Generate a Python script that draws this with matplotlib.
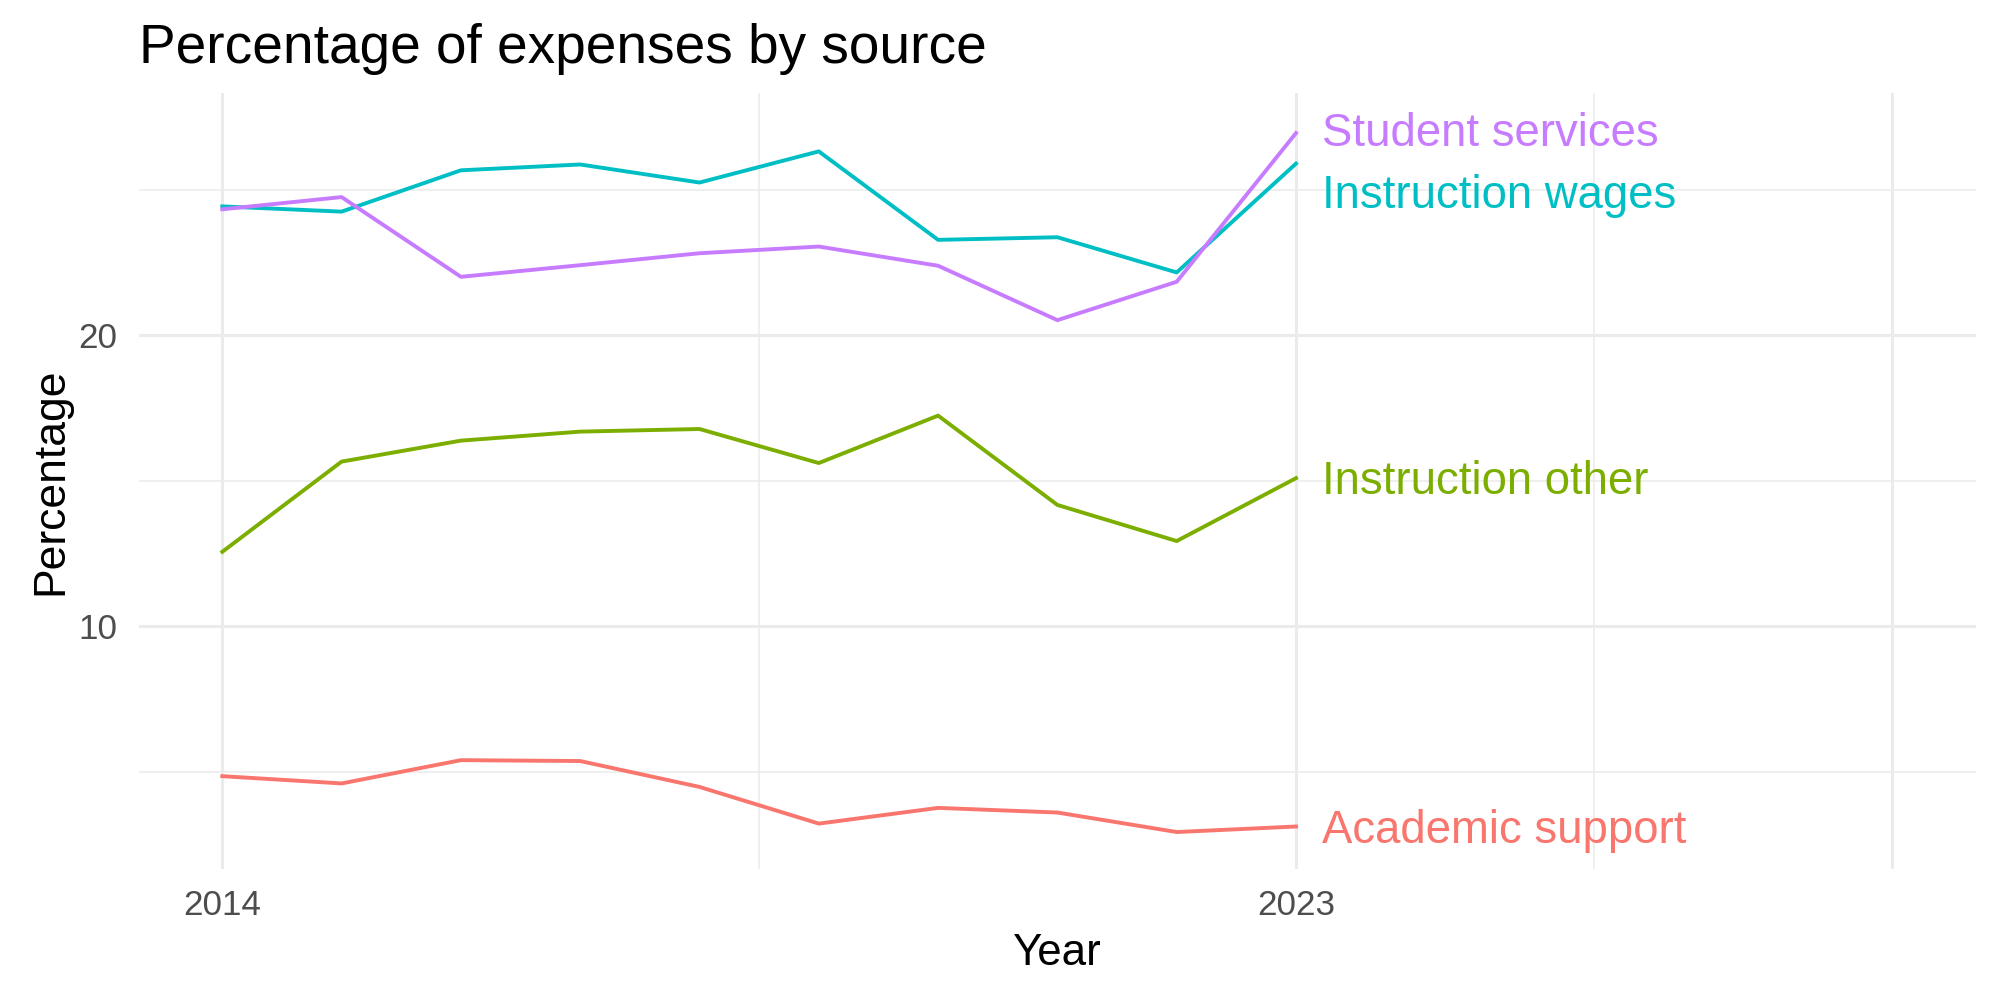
from matplotlib import pyplot as plt
import numpy as np

plt.rcParams['font.family'] = ['Liberation Sans', 'DejaVu Sans']

years = [2014, 2015, 2016, 2017, 2018, 2019, 2020, 2021, 2022, 2023]
academic_support = [4.85, 4.60, 5.40, 5.37, 4.48, 3.22, 3.76, 3.60, 2.93, 3.12]
instruction_other = [12.56, 15.66, 16.38, 16.69, 16.78, 15.61, 17.24, 14.17, 12.93, 15.09]
instruction_wages = [24.43, 24.25, 25.67, 25.87, 25.25, 26.32, 23.28, 23.37, 22.16, 25.90]
student_services = [24.33, 24.75, 22.01, 22.41, 22.82, 23.05, 22.39, 20.52, 21.84, 26.95]

names = ["Academic support", "Instruction other", "Instruction wages", "Student services"]
colors = ["#F8766D", "#7CAE00", "#00BFC4", "#C77CFF"]
# baseline of each end label (nudged apart so they don't overlap)
label_y = [2.54, 14.54, 24.36, 26.52]


def main():
	fig = plt.figure(figsize=(10, 5), dpi=200)
	ax = fig.add_axes([0.0694, 0.1313, 0.9186, 0.7758])

	series = [academic_support, instruction_other, instruction_wages, student_services]
	for vals, name, col, ly in zip(series, names, colors, label_y):
		ax.plot(years, vals, color=col, lw=1.4)
		ax.text(years[-1] + 0.22, ly, name, color=col, fontsize=16.4,
				ha="left", va="baseline")

	ax.set_xlim(2013.3, 2028.7)
	ax.set_ylim(1.67, 28.33)

	# grid like theme_minimal
	ax.set_xticks([2014, 2023, 2028])
	ax.set_xticklabels(["2014", "2023", ""])
	ax.set_xticks([2018.5, 2025.5], minor=True)
	ax.set_yticks([10, 20])
	ax.set_yticks([5, 15, 25], minor=True)
	ax.grid(which="major", color="#EBEBEB", lw=1.1)
	ax.grid(which="minor", color="#EBEBEB", lw=0.55)
	ax.set_axisbelow(True)
	ax.tick_params(which="both", length=0, labelsize=12.6, labelcolor="#4D4D4D")
	ax.tick_params(axis="x", pad=7.4)
	ax.tick_params(axis="y", pad=7.8)
	for s in ax.spines.values():
		s.set_visible(False)

	ax.set_xlabel("Year", fontsize=15.8, labelpad=3.8)
	ax.set_ylabel("Percentage", fontsize=16, labelpad=2.5)
	ax.set_title("Percentage of expenses by source", fontsize=19.8, loc="left", pad=10.7)

	fig.savefig("out.png")


if __name__ == "__main__":
	main()
